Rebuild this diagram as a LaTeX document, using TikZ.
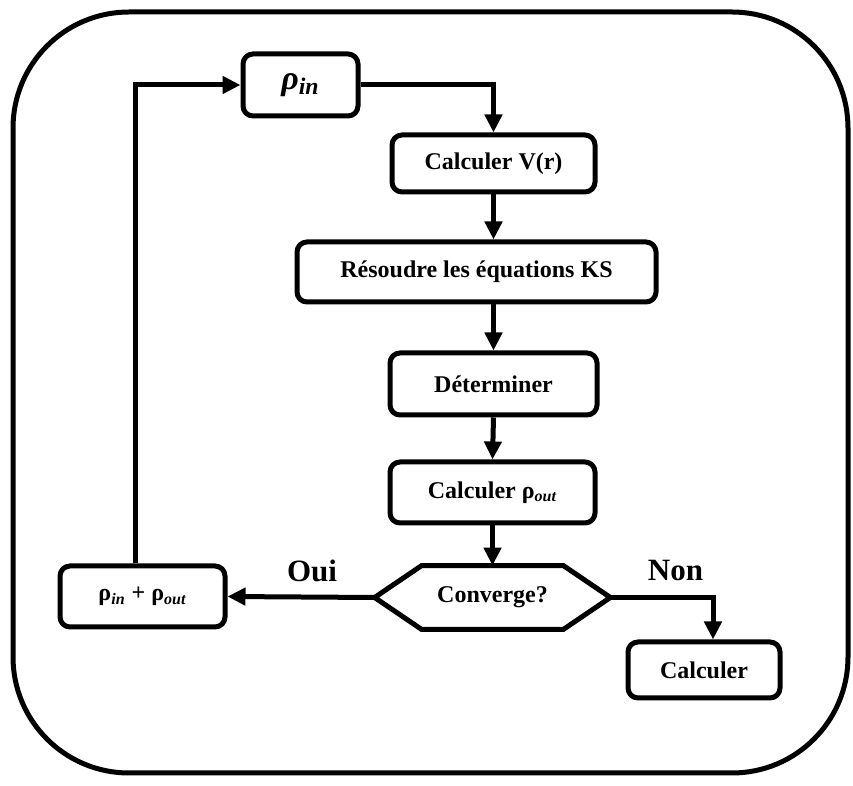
\documentclass[tikz,border=0pt]{standalone}
\usepackage{fontspec}
\setmainfont{Liberation Serif}
\usetikzlibrary{arrows.meta}
\tikzset{
  box/.style={draw, line width=2.5pt, rounded corners=5pt, align=center,
    font=\fontsize{12}{14}\selectfont\bfseries, inner sep=0pt, fill=white},
  flow/.style={line width=2.5pt, -{Triangle[length=9pt,width=8.5pt]}},
  lab/.style={font=\fontsize{15.5}{17}\selectfont\bfseries},
}
\begin{document}
\begin{tikzpicture}[x=0.5pt,y=-0.5pt]
\useasboundingbox (0,0) rectangle (853,786);
\draw[line width=2.5pt, rounded corners=58pt] (13,12) rectangle (848,773);
\node[box, minimum width=57.5pt, minimum height=31pt, font=\fontsize{17}{19}\selectfont\bfseries\itshape] (rin) at (300.5,85) {ρ\textsubscript{in}};
\node[box, minimum width=101.5pt, minimum height=28.5pt] (cv) at (493.5,163.5) {Calculer V(r)};
\node[box, minimum width=179.5pt, minimum height=30pt] (ks) at (476.5,272) {Résoudre les équations KS};
\node[box, minimum width=103.5pt, minimum height=31pt] (det) at (493.5,384) {Déterminer};
\node[box, minimum width=102.5pt, minimum height=30.5pt] (cro) at (492.5,492.5) {Calculer ρ\textsubscript{\itshape out}};
\node[font=\fontsize{12}{14}\selectfont\bfseries, minimum width=117.5pt, minimum height=31.5pt, inner sep=0pt] (conv) at (492.5,597.5) {Converge?};
\draw[line width=2.5pt, line join=miter] (conv.west) -- ([xshift=23.5pt]conv.north west) -- ([xshift=-23.5pt]conv.north east) -- (conv.east) -- ([xshift=-23.5pt]conv.south east) -- ([xshift=23.5pt]conv.south west) -- cycle;
\node[box, minimum width=82.5pt, minimum height=30.5pt] (rio) at (142.5,596.5) {ρ\textsubscript{\itshape in} + ρ\textsubscript{\itshape out}};
\node[box, minimum width=76pt, minimum height=28pt] (calc) at (704,670) {Calculer};
\node[lab] (oui) at (312,571) {Oui};
\node[lab] (non) at (675.5,571) {Non};
\draw[flow] (rin.east) -| (cv.north);
\draw[flow] (cv.south) -- (cv.south |- ks.north);
\draw[flow] (det.north |- ks.south) -- (det.north);
\draw[flow] (det.south) -- (cro.north);
\draw[flow] (cro.south) -- (conv.north);
\draw[flow] (conv.west) -- (rio.east);
\draw[flow] ([xshift=-3.75pt]rio.north) |- (rin.west);
\draw[flow] (conv.east) -| ([xshift=4.5pt]calc.north);
\end{tikzpicture}
\end{document}
